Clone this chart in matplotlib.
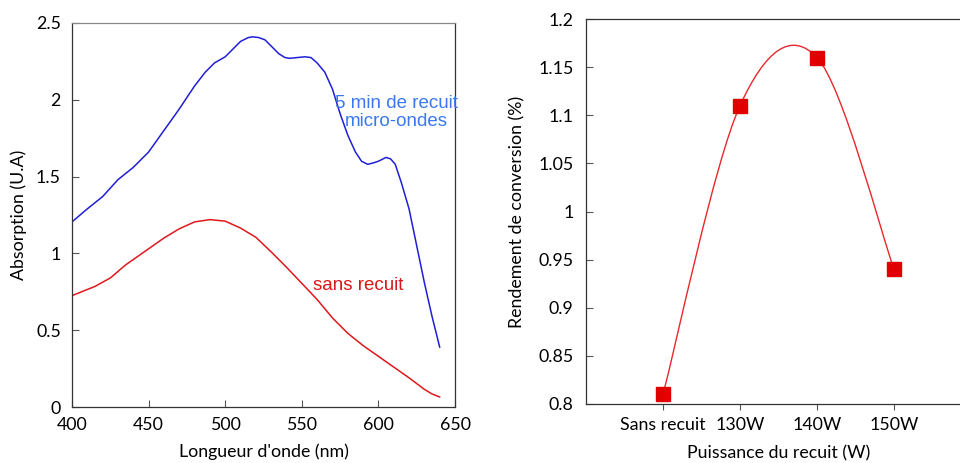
import numpy as np
import matplotlib
matplotlib.use("Agg")
import matplotlib.pyplot as plt
from matplotlib.path import Path
from matplotlib.patches import PathPatch

# ---- Data ----
wl_blue = [400, 410, 420, 430, 440, 450, 460, 470, 480, 487, 493, 500, 505, 510, 515, 518, 522, 526,
           530, 535, 539, 542, 547, 552, 556, 560, 565, 570, 575, 580, 585, 589, 593, 597, 600, 603,
           605, 608, 611, 615, 620, 625, 630, 635, 640]
abs_blue = [1.205, 1.29, 1.37, 1.48, 1.56, 1.66, 1.80, 1.94, 2.09, 2.18, 2.24, 2.28, 2.33, 2.38, 2.405,
            2.41, 2.405, 2.39, 2.35, 2.30, 2.275, 2.27, 2.275, 2.28, 2.275, 2.24, 2.18, 2.07, 1.91,
            1.77, 1.66, 1.60, 1.58, 1.59, 1.60, 1.615, 1.625, 1.615, 1.58, 1.46, 1.29, 1.05, 0.81,
            0.59, 0.39]
wl_red = [400, 405, 415, 425, 435, 450, 460, 470, 480, 490, 500, 510, 520, 530, 540, 550, 560,
          570, 580, 590, 600, 610, 620, 630, 635, 640]
abs_red = [0.725, 0.745, 0.785, 0.84, 0.925, 1.03, 1.10, 1.16, 1.205, 1.22, 1.21, 1.165, 1.105,
           1.01, 0.91, 0.805, 0.70, 0.58, 0.48, 0.40, 0.33, 0.26, 0.19, 0.115, 0.085, 0.065]

categories = ["Sans recuit", "130W", "140W", "150W"]
rendement = [0.81, 1.11, 1.16, 0.94]

TICK_FONT = ["Lato", "DejaVu Sans"]
ANN_FONT = ["Liberation Sans", "DejaVu Sans"]
FS = 12.8

fig = plt.figure(figsize=(9.6, 4.63), dpi=100)

# ---- Left chart ----
ax1 = fig.add_axes([72/960, 1-407/463, 383/960, 384/463])
ax1.plot(wl_blue, abs_blue, color="#1f1fd6", lw=1.1)
ax1.plot(wl_red, abs_red, color="#e0181c", lw=1.1)
ax1.set_xlim(400, 650)
ax1.set_ylim(0, 2.5)
ax1.set_xticks([400, 450, 500, 550, 600, 650])
ax1.set_yticks([0, 0.5, 1, 1.5, 2, 2.5])
ax1.set_yticklabels(["0", "0.5", "1", "1.5", "2", "2.5"])
ax1.tick_params(axis="both", direction="in", length=5, width=0.8, color="#555555",
                labelsize=FS)
ax1.tick_params(axis="y", pad=8)
ax1.tick_params(axis="x", pad=7)
for lab in ax1.get_xticklabels() + ax1.get_yticklabels():
    lab.set_family(TICK_FONT)
for s in ax1.spines.values():
    s.set_color("#333333")
    s.set_linewidth(0.9)
ax1.spines["top"].set_color("#888888")
ax1.set_xlabel("Longueur d'onde (nm)", family=TICK_FONT, fontsize=FS, va="center")
ax1.set_ylabel("Absorption (U.A)", family=TICK_FONT, fontsize=FS, va="center")
ax1.xaxis.set_label_coords(0.5, (407-452)/384)
ax1.yaxis.set_label_coords((19-72)/383, 0.5)
ax1.text(612, 1.917, "5 min de recuit\nmicro-ondes", color="#3a78f2", family=ANN_FONT,
         fontsize=13.5, ha="center", va="center", linespacing=1.1)
ax1.text(586.5, 0.788, "sans recuit", color="#d81818", family=ANN_FONT, fontsize=13.5,
         ha="center", va="center")

# ---- Right chart ----
ax2 = fig.add_axes([586/960, 1-404/463, 385/960, 385/463])
xpos = np.arange(1, len(categories) + 1)
pts = np.column_stack([xpos, rendement]).astype(float)
# smoothed (Catmull-Rom style Bezier) line through the points
ext = np.vstack([pts[0], pts, pts[-1]])
verts = [tuple(pts[0])]
codes = [Path.MOVETO]
for i in range(len(pts) - 1):
    p0, p1, p2, p3 = ext[i], ext[i+1], ext[i+2], ext[i+3]
    c1 = p1 + (p2 - p0) / 6.0
    c2 = p2 - (p3 - p1) / 6.0
    verts += [tuple(c1), tuple(c2), tuple(p2)]
    codes += [Path.CURVE4] * 3
ax2.add_patch(PathPatch(Path(verts, codes), facecolor="none", edgecolor="#e8282c", lw=1.0))
ax2.plot(xpos, rendement, ls="none", marker="s", markersize=9.5, color="#e00000",
         markeredgecolor="#e00000")
ax2.set_xlim(0, 5)
ax2.set_ylim(0.8, 1.2)
ax2.set_xticks(xpos)
ax2.set_xticklabels(categories)
ax2.set_yticks([0.8, 0.85, 0.9, 0.95, 1.0, 1.05, 1.1, 1.15, 1.2])
ax2.set_yticklabels(["0.8", "0.85", "0.9", "0.95", "1", "1.05", "1.1", "1.15", "1.2"])
ax2.tick_params(axis="y", direction="in", length=5, width=0.8, color="#555555",
                labelsize=FS, pad=9)
ax2.tick_params(axis="x", direction="out", length=4, width=0.8, color="#555555",
                labelsize=FS, pad=5)
for lab in ax2.get_xticklabels() + ax2.get_yticklabels():
    lab.set_family(TICK_FONT)
for s in ax2.spines.values():
    s.set_color("#333333")
    s.set_linewidth(0.9)
ax2.set_xlabel("Puissance du recuit (W)", family=TICK_FONT, fontsize=FS, va="center")
ax2.set_ylabel("Rendement de conversion (%)", family=TICK_FONT, fontsize=FS, va="center")
ax2.xaxis.set_label_coords(0.5, (404-453)/385)
ax2.yaxis.set_label_coords((517-586)/385, 0.5)

fig.savefig("out.png", dpi=100)
